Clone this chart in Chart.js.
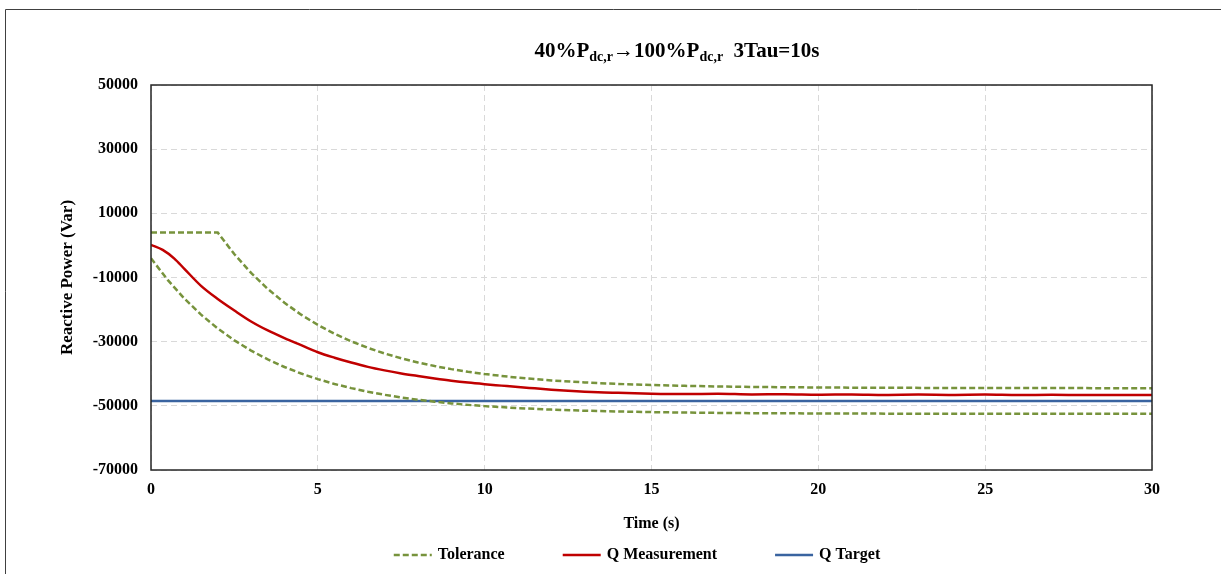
<!DOCTYPE html>
<html>
<head>
<meta charset="utf-8">
<script src="https://cdn.jsdelivr.net/npm/chart.js@4.4.1/dist/chart.umd.min.js"></script>
<style>
  html, body { margin: 0; padding: 0; background: #fff; }
  #wrap { width: 1221px; height: 574px; }
</style>
</head>
<body>
<div id="wrap"><canvas id="qChart" width="1221" height="574"></canvas></div>
<script>
// values
const tolTime = [0, 0.5, 1, 1.5, 2, 2.5, 3, 3.5, 4, 4.5, 5, 5.5, 6, 6.5, 7, 7.5, 8, 8.5, 9, 9.5, 10,
                 11, 12, 13, 14, 15, 16, 17, 18, 20, 22, 24, 26, 28, 30];
const tolUpper = [4000, 4000, 4000, 4000, 4000, -2750, -8570, -13580, -17880, -21590, -24780, -27530,
                  -29890, -31930, -33680, -35190, -36480, -37600, -38560, -39390, -40100,
                  -41240, -42090, -42710, -43170, -43520, -43770, -43960, -44100, -44280, -44380,
                  -44430, -44460, -44480, -44490];
const tolLower = [-4000, -10760, -16570, -21580, -25880, -29590, -32780, -35530, -37890, -39930, -41680,
                  -43190, -44480, -45600, -46560, -47390, -48100, -48710, -49240, -49700, -50090,
                  -50710, -51180, -51520, -51770, -51960, -52100, -52200, -52280, -52380, -52430,
                  -52460, -52480, -52490, -52500];

const measTime = [0, 0.35, 0.7, 1.0, 1.5, 2.0, 2.5, 3.0, 3.5, 4.0, 4.5, 5.0, 5.5, 6.0, 6.5, 7.0, 7.5, 8.0,
                  8.5, 9.0, 9.5, 10.0, 10.5, 11.0, 11.5, 12.0, 12.5, 13.4, 14, 15, 16, 17, 18, 19, 20,
                  21, 22, 23, 24, 25, 26, 27, 28, 29, 30];
const measValues = [200, -1400, -4100, -7300, -12600, -16700, -20300, -23700, -26500, -28900, -31100,
                    -33300, -35000, -36500, -37850, -38950, -39900, -40700, -41450, -42150, -42750,
                    -43250, -43700, -44150, -44550, -44950, -45300, -45780, -45950, -46200, -46300,
                    -46250, -46450, -46400, -46550, -46450, -46600, -46500, -46600, -46500, -46650,
                    -46550, -46650, -46600, -46650];

const targetTime = [0, 30];
const targetValues = [-48500, -48500];

const xTicks = [0, 5, 10, 15, 20, 25, 30];
const yTicks = [-70000, -50000, -30000, -10000, 10000, 30000, 50000];

const FONT = '"Liberation Serif", "Times New Roman", serif';
const OLIVE = '#77933C';
const RED = '#C00000';
const BLUE = '#3A64A0';

function pairs(xs, ys) {
    return xs.map((x, i) => ({ x: x, y: ys[i] }));
}

// page frame (the chart sits inside a bordered box)
const framePlugin = {
    id: 'frame',
    beforeDraw(chart) {
        const ctx = chart.ctx;
        ctx.save();
        ctx.fillStyle = '#fff';
        ctx.fillRect(0, 0, chart.width, chart.height);
        ctx.strokeStyle = '#404040';
        ctx.lineWidth = 1;
        ctx.beginPath();
        ctx.moveTo(5.5, chart.height);
        ctx.lineTo(5.5, 9.5);
        ctx.lineTo(chart.width, 9.5);
        ctx.stroke();
        ctx.restore();
    }
};

// plot area border
const plotBoxPlugin = {
    id: 'plotBox',
    afterDatasetsDraw(chart) {
        const { ctx, chartArea: a } = chart;
        ctx.save();
        ctx.strokeStyle = '#262626';
        ctx.lineWidth = 1.5;
        ctx.strokeRect(a.left, a.top, a.right - a.left, a.bottom - a.top);
        ctx.restore();
    }
};

// title with subscripts
const titleParts = [
    ['40%P', false], ['dc,r', true], ['\u2192100%P', false], ['dc,r', true], ['  3Tau=10s', false]
];
const titlePlugin = {
    id: 'subTitle',
    afterDraw(chart) {
        const ctx = chart.ctx;
        const big = 'bold 21px ' + FONT;
        const small = 'bold 14px ' + FONT;
        ctx.save();
        ctx.fillStyle = '#000';
        ctx.textBaseline = 'alphabetic';
        let total = 0;
        titleParts.forEach(([t, sub]) => {
            ctx.font = sub ? small : big;
            total += ctx.measureText(t).width;
        });
        let x = 677 - total / 2;
        const y = 57;
        titleParts.forEach(([t, sub]) => {
            ctx.font = sub ? small : big;
            ctx.fillText(t, x, sub ? y + 4 : y);
            x += ctx.measureText(t).width;
        });
        ctx.restore();
    }
};

// legend with line samples, one entry for the tolerance band
const legendPlugin = {
    id: 'lineLegend',
    afterDraw(chart) {
        const ctx = chart.ctx;
        const items = chart.data.datasets.filter(d => !d.hideInLegend);
        const lineLen = 38, gap = 6, spacing = 58;
        ctx.save();
        ctx.font = 'bold 16px ' + FONT;
        ctx.textBaseline = 'middle';
        const widths = items.map(d => lineLen + gap + ctx.measureText(d.label).width);
        const total = widths.reduce((s, w) => s + w, 0) + spacing * (items.length - 1);
        let x = 637 - total / 2;
        const y = 555;
        items.forEach((d, i) => {
            ctx.strokeStyle = d.borderColor;
            ctx.lineWidth = d.borderWidth;
            ctx.setLineDash(d.borderDash || []);
            ctx.beginPath();
            ctx.moveTo(x, y);
            ctx.lineTo(x + lineLen, y);
            ctx.stroke();
            ctx.setLineDash([]);
            ctx.fillStyle = '#000';
            ctx.fillText(d.label, x + lineLen + gap, y);
            x += widths[i] + spacing;
        });
        ctx.restore();
    }
};

const ctx = document.getElementById('qChart').getContext('2d');
const qChart = new Chart(ctx, {
    type: 'line',
    data: {
        datasets: [
            {
                label: 'Tolerance',
                data: pairs(tolTime, tolUpper),
                borderColor: OLIVE,
                borderWidth: 2.5,
                borderDash: [6, 3],
                pointRadius: 0,
                tension: 0
            },
            {
                label: 'Tolerance',
                hideInLegend: true,
                data: pairs(tolTime, tolLower),
                borderColor: OLIVE,
                borderWidth: 2.5,
                borderDash: [6, 3],
                pointRadius: 0,
                tension: 0
            },
            {
                label: 'Q Measurement',
                data: pairs(measTime, measValues),
                borderColor: RED,
                borderWidth: 2.5,
                pointRadius: 0,
                cubicInterpolationMode: 'monotone'
            },
            {
                label: 'Q Target',
                data: pairs(targetTime, targetValues),
                borderColor: BLUE,
                borderWidth: 2.5,
                pointRadius: 0
            }
        ]
    },
    options: {
        responsive: false,
        animation: false,
        layout: {
            padding: { left: 48, top: 85, right: 69, bottom: 0 }
        },
        plugins: {
            legend: { display: false },
            title: { display: false },
            tooltip: { enabled: false }
        },
        scales: {
            x: {
                type: 'linear',
                min: 0,
                max: 30,
                afterBuildTicks: (scale) => { scale.ticks = xTicks.map(v => ({ value: v })); },
                afterFit: (scale) => { scale.height = 104; },
                grid: { color: '#D9D9D9', lineWidth: 1, drawTicks: false },
                border: { display: false, dash: [6, 4] },
                ticks: {
                    color: '#000',
                    padding: 10,
                    font: { family: FONT, size: 16, weight: 'bold' }
                },
                title: {
                    display: true,
                    text: 'Time (s)',
                    color: '#000',
                    padding: { top: 0, bottom: 41 },
                    font: { family: FONT, size: 16, weight: 'bold' }
                }
            },
            y: {
                min: -70000,
                max: 50000,
                afterBuildTicks: (scale) => { scale.ticks = yTicks.map(v => ({ value: v })); },
                afterFit: (scale) => { scale.width = 103; },
                grid: { color: '#D9D9D9', lineWidth: 1, drawTicks: false },
                border: { display: false, dash: [6, 4] },
                ticks: {
                    color: '#000',
                    padding: 13,
                    font: { family: FONT, size: 16, weight: 'bold' },
                    callback: (v) => String(v)
                },
                title: {
                    display: true,
                    text: 'Reactive Power (Var)',
                    color: '#000',
                    padding: { top: 9, bottom: 0 },
                    font: { family: FONT, size: 17, weight: 'bold' }
                }
            }
        }
    },
    plugins: [framePlugin, plotBoxPlugin, titlePlugin, legendPlugin]
});
</script>
</body>
</html>
